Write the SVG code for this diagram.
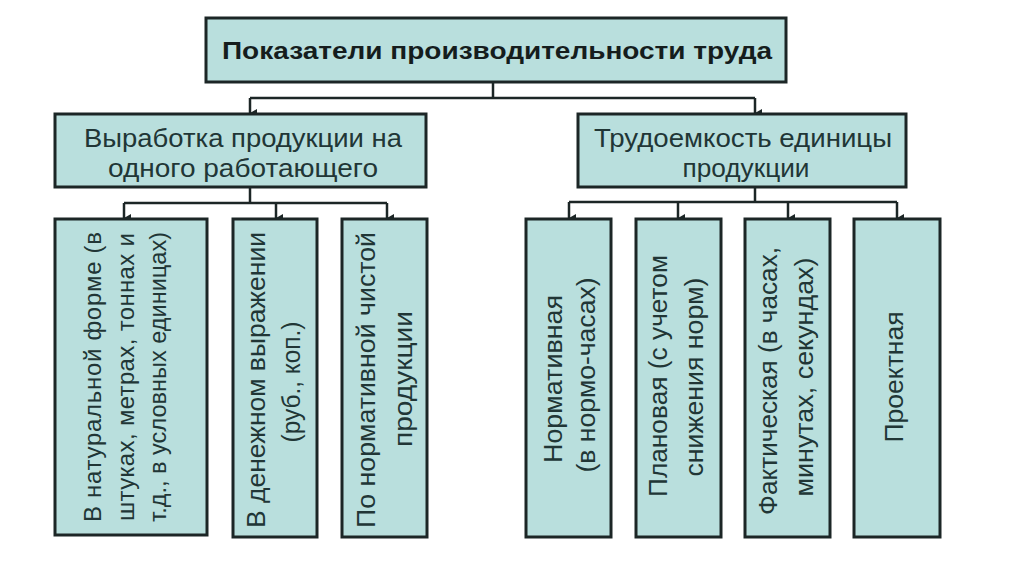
<svg xmlns="http://www.w3.org/2000/svg" width="1024" height="574" viewBox="0 0 1024 574">
  <style>
    .box { fill: #b9dfdd; stroke: #1c2626; stroke-width: 3; }
    .t { font-family: "Liberation Sans", Arial, sans-serif; font-size: 26px; fill: #213636; text-anchor: middle; }
    .title { font-weight: bold; fill: #151d1d; font-size: 24px; }
    .v { font-size: 25px; }
    .v1 { font-size: 24px; }
    .conn { fill: none; stroke: #1c2626; stroke-width: 2.5; }
  </style>
  <defs>
    <marker id="arr" markerUnits="userSpaceOnUse" markerWidth="10" markerHeight="10" viewBox="0 0 10 10" refX="5" refY="9" orient="auto-start-reverse">
      <path d="M1,2 L9,2 L5,9 Z" fill="#1c2626"/>
    </marker>
  </defs>
  <rect width="1024" height="574" fill="#ffffff"/>

  <g id="connectors">
    <path class="conn" d="M493,82 V98"/>
    <path class="conn" d="M250,98 H755"/>
    <path class="conn" d="M250,98 V113" marker-end="url(#arr)"/>
    <path class="conn" d="M755,98 V113" marker-end="url(#arr)"/>
    <path class="conn" d="M250,187 V203"/>
    <path class="conn" d="M124,203 H387"/>
    <path class="conn" d="M124,203 V218" marker-end="url(#arr)"/>
    <path class="conn" d="M276,203 V218" marker-end="url(#arr)"/>
    <path class="conn" d="M387,203 V218" marker-end="url(#arr)"/>
    <path class="conn" d="M755,187 V202"/>
    <path class="conn" d="M569,202 H897"/>
    <path class="conn" d="M569,202 V218" marker-end="url(#arr)"/>
    <path class="conn" d="M678,202 V218" marker-end="url(#arr)"/>
    <path class="conn" d="M788,202 V218" marker-end="url(#arr)"/>
    <path class="conn" d="M897,202 V218" marker-end="url(#arr)"/>
  </g>

  <g id="root">
    <rect class="box" x="206" y="18" width="580" height="64"/>
    <text class="t title" x="497" y="59" textLength="550" lengthAdjust="spacingAndGlyphs">Показатели производительности труда</text>
  </g>

  <g id="output">
    <rect class="box" x="55" y="114" width="371" height="73"/>
    <text class="t" x="243" y="147" textLength="318" lengthAdjust="spacingAndGlyphs">Выработка продукции на</text>
    <text class="t" x="243" y="177" textLength="270" lengthAdjust="spacingAndGlyphs">одного работающего</text>
  </g>

  <g id="labor">
    <rect class="box" x="578" y="114" width="328" height="73"/>
    <text class="t" x="743" y="147" textLength="298" lengthAdjust="spacingAndGlyphs">Трудоемкость единицы</text>
    <text class="t" x="746" y="177" textLength="127" lengthAdjust="spacingAndGlyphs">продукции</text>
  </g>

  <g id="natural">
    <rect class="box" x="55" y="219" width="152" height="316"/>
    <text class="t v1" transform="translate(101,377) rotate(-90)" textLength="290" lengthAdjust="spacing">В натуральной форме (в</text>
    <text class="t v1" transform="translate(134,377) rotate(-90)" textLength="288" lengthAdjust="spacing">штуках, метрах, тоннах и</text>
    <text class="t v1" transform="translate(166,377) rotate(-90)" textLength="290" lengthAdjust="spacingAndGlyphs">т.д., в условных единицах)</text>
  </g>

  <g id="money">
    <rect class="box" x="233" y="219" width="84" height="318"/>
    <text class="t v" transform="translate(265,380) rotate(-90)" textLength="296" lengthAdjust="spacingAndGlyphs">В денежном выражении</text>
    <text class="t v" transform="translate(300,382) rotate(-90)" textLength="121" lengthAdjust="spacingAndGlyphs">(руб., коп.)</text>
  </g>

  <g id="net">
    <rect class="box" x="342" y="219" width="85" height="318"/>
    <text class="t v" transform="translate(375,380) rotate(-90)" textLength="296" lengthAdjust="spacingAndGlyphs">По нормативной чистой</text>
    <text class="t v" transform="translate(412,379) rotate(-90)" textLength="136" lengthAdjust="spacingAndGlyphs">продукции</text>
  </g>

  <g id="normative">
    <rect class="box" x="526" y="219" width="85" height="318"/>
    <text class="t v" transform="translate(562,379) rotate(-90)" textLength="168" lengthAdjust="spacingAndGlyphs">Нормативная</text>
    <text class="t v" transform="translate(595,375) rotate(-90)" textLength="195" lengthAdjust="spacingAndGlyphs">(в нормо-часах)</text>
  </g>

  <g id="planned">
    <rect class="box" x="636" y="219" width="85" height="318"/>
    <text class="t v" transform="translate(667,376) rotate(-90)" textLength="242" lengthAdjust="spacingAndGlyphs">Плановая (с учетом</text>
    <text class="t v" transform="translate(703,377) rotate(-90)" textLength="199" lengthAdjust="spacingAndGlyphs">снижения норм)</text>
  </g>

  <g id="actual">
    <rect class="box" x="745" y="219" width="85" height="318"/>
    <text class="t v" transform="translate(777,381) rotate(-90)" textLength="268" lengthAdjust="spacingAndGlyphs">Фактическая (в часах,</text>
    <text class="t v" transform="translate(813,377) rotate(-90)" textLength="239" lengthAdjust="spacingAndGlyphs">минутах, секундах)</text>
  </g>

  <g id="project">
    <rect class="box" x="854" y="219" width="86" height="318"/>
    <text class="t v" transform="translate(903,377) rotate(-90)" textLength="131" lengthAdjust="spacingAndGlyphs">Проектная</text>
  </g>
</svg>
